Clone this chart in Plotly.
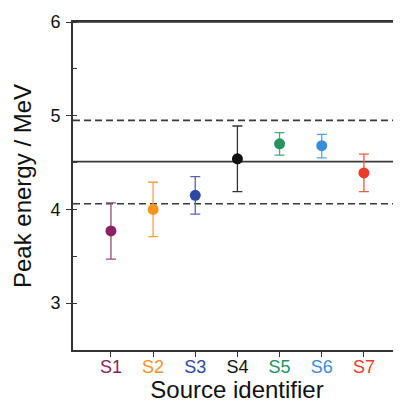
import plotly.graph_objects as go

sources = ["S1", "S2", "S3", "S4", "S5", "S6", "S7"]
x_pos = [1, 2, 3, 4, 5, 6, 7]
peak = [3.77, 4.00, 4.15, 4.54, 4.70, 4.68, 4.39]
err_plus = [0.30, 0.29, 0.20, 0.35, 0.12, 0.12, 0.20]
err_minus = [0.30, 0.29, 0.20, 0.35, 0.12, 0.13, 0.20]
colors = ["#8B2262", "#F7941D", "#2E4AA0", "#111111", "#239462", "#3A8DD6", "#EE3A2A"]
err_colors = ["#9A4A7C", "#F7A040", "#5565B0", "#333333", "#4FA57D", "#5C9FDC", "#EE5A4A"]
mean_line = 4.51
band_upper = 4.95
band_lower = 4.06
y_ticks = [3, 4, 5, 6]

fig = go.Figure()
for i in range(len(sources)):
    fig.add_trace(go.Scatter(
        x=[x_pos[i]], y=[peak[i]], mode="markers",
        marker=dict(size=11, color=colors[i]),
        error_y=dict(type="data", symmetric=False, array=[err_plus[i]],
                     arrayminus=[err_minus[i]], color=err_colors[i],
                     thickness=1.3, width=5),
        showlegend=False, hoverinfo="skip"))

for yv, dash in [(mean_line, "solid"), (band_upper, "7px,4px"), (band_lower, "7px,4px")]:
    fig.add_shape(type="line", xref="paper", x0=0, x1=1, yref="y", y0=yv, y1=yv,
                  line=dict(color="#3a3a3a", width=1.6, dash=dash), layer="below")

ticktext = [f'<span style="color:{c}">{s}</span>' for s, c in zip(sources, colors)]
font = "Liberation Sans, Arial, sans-serif"

fig.update_layout(
    width=393, height=395,
    margin=dict(l=65, r=0, t=14, b=53, autoexpand=False),
    plot_bgcolor="white", paper_bgcolor="white",
    font=dict(family=font, color="#111"),
    xaxis=dict(range=[0.1, 7.88], tickvals=x_pos, ticktext=ticktext,
               showgrid=False, zeroline=False, showline=True, linecolor="#333",
               linewidth=1.6, mirror=True, ticks="outside", ticklen=5, tickwidth=1.4,
               tickcolor="#333", tickfont=dict(size=18), automargin=False,
               ticklabelstandoff=-5,
               title=dict(text="Source identifier", font=dict(size=24), standoff=1)),
    yaxis=dict(range=[2.5, 6], tickvals=y_ticks, showgrid=False, zeroline=False,
               showline=True, linecolor="#333", linewidth=1.6, ticks="outside",
               ticklen=5, tickwidth=1.4, tickcolor="#333", tickfont=dict(size=18),
               automargin=False, ticklabelstandoff=2,
               minor=dict(ticks="inside", dtick=0.5, tick0=0, ticklen=4,
                          tickwidth=1.4, tickcolor="#333", showgrid=False),
               title=dict(text="Peak energy / MeV", font=dict(size=24), standoff=12)),
)
fig.add_shape(type="line", xref="paper", x0=0, x1=1, yref="paper", y0=1, y1=1,
              line=dict(color="#333", width=1.6), layer="above")

fig.write_html("out.html")
